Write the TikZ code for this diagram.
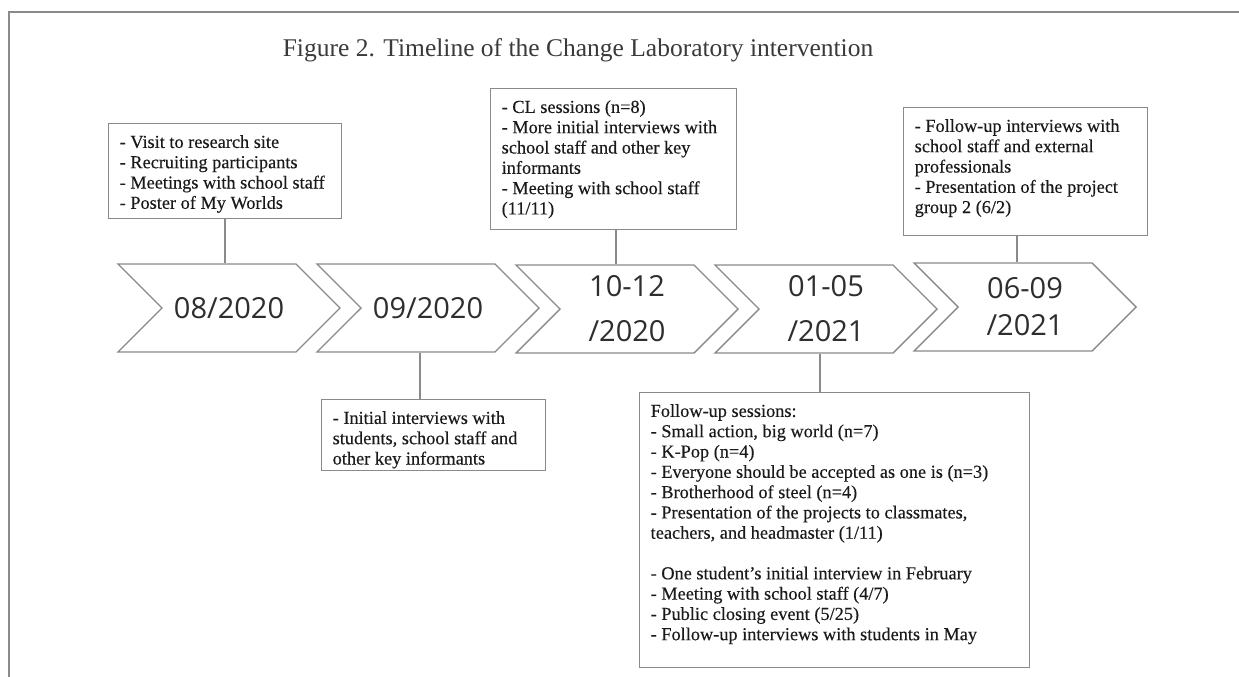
\documentclass[tikz,border=0pt]{standalone}
\usepackage{fontspec}
\setmainfont{Liberation Serif}
\newfontfamily\boxfont{Liberation Serif}[FakeBold=0.25, Ligatures=TeX]
\newfontfamily\datefont{Open Sans}
\usetikzlibrary{shapes.symbols}

\definecolor{linegray}{HTML}{8A8A8A}
\definecolor{ink}{HTML}{1A1A1A}
\definecolor{dateink}{HTML}{2E2E2E}
\definecolor{titleink}{HTML}{3A3A3A}

% top-aligned text block of fixed width and height
\newcommand{\boxbody}[3]{%
  \parbox[c][#2][t]{#1}{\raggedright\boxfont\fontsize{18.3}{20.3}\selectfont
  \vspace*{10pt}\strut #3}}

\tikzset{
  infobox/.style={draw=linegray, line width=1.4pt, fill=white, inner xsep=11pt,
    inner ysep=0pt, anchor=north west, text=ink},
  chev/.style={signal, signal from=west, signal to=east, signal pointer angle=90,
    draw=linegray, line width=1.4pt, fill=white, minimum width=222pt,
    minimum height=88pt, inner sep=0pt, text=dateink, align=center,
    font=\datefont\fontsize{29}{45}\selectfont},
  conn/.style={draw=linegray, line width=1.4pt},
  frame/.style={draw=linegray, line width=1.5pt}
}

\begin{document}
\begin{tikzpicture}[x=1pt, y=-1pt]
\useasboundingbox (0,0) rectangle (1239,677);

% outer frame (top and left edges)
\coordinate (fTL) at (9,12);
\coordinate (fBL) at (9,677);
\coordinate (fTR) at (1239,12);
\draw[frame] (fBL) -- (fTL) -- (fTR);

% heading
\node[font=\fontsize{25.5}{30}\selectfont, text=titleink] (title) at (578,50)
  {Figure 2. Timeline of the Change Laboratory intervention};

% timeline chevrons
\node[chev] (c1) at (229,308) {08/2020};
\node[chev] (c2) at (428,308) {09/2020};
\node[chev] (c3) at (627,309) {10-12\\/2020};
\node[chev] (c4) at (826,309) {01-05\\/2021};
\node[chev, font=\datefont\fontsize{29}{37}\selectfont] (c5) at (1025,307) {06-09\\/2021};

% activity boxes above the timeline
\node[infobox] (b1) at (108,123) {\boxbody{211pt}{95pt}{%
  - Visit to research site\\
  - Recruiting participants\\
  - Meetings with school staff\\
  - Poster of My Worlds}};

\node[infobox] (b3) at (490,88) {\boxbody{224pt}{141pt}{%
  - CL sessions (n=8)\\
  - More initial interviews with\\
  school staff and other key\\
  informants\\
  - Meeting with school staff\\
  (11/11)}};

\node[infobox] (b5) at (903,107) {\boxbody{222pt}{128pt}{%
  - Follow-up interviews with\\
  school staff and external\\
  professionals\\
  - Presentation of the project\\
  group 2 (6/2)}};

% activity boxes below the timeline
\node[infobox] (b2) at (321,399) {\boxbody{202pt}{71pt}{%
  - Initial interviews with\\
  students, school staff and\\
  other key informants}};

\node[infobox] (b4) at (639,392) {\boxbody{368pt}{275pt}{%
  Follow-up sessions:\\
  - Small action, big world (n=7)\\
  - K-Pop (n=4)\\
  - Everyone should be accepted as one is (n=3)\\
  - Brotherhood of steel (n=4)\\
  - Presentation of the projects to classmates,\\
  teachers, and headmaster (1/11)\\
  \strut\\
  - One student’s initial interview in February\\
  - Meeting with school staff (4/7)\\
  - Public closing event (5/25)\\
  - Follow-up interviews with students in May}};

% connectors between boxes and chevrons
\draw[conn] (b1.south -| 225,0) -- (c1.north -| 225,0);
\draw[conn] (b3.south -| 616,0) -- (c3.north -| 616,0);
\draw[conn] (b5.south -| 1017,0) -- (c5.north -| 1017,0);
\draw[conn] (c2.south -| 420,0) -- (b2.north -| 420,0);
\draw[conn] (c4.south -| 820,0) -- (b4.north -| 820,0);
\end{tikzpicture}
\end{document}
